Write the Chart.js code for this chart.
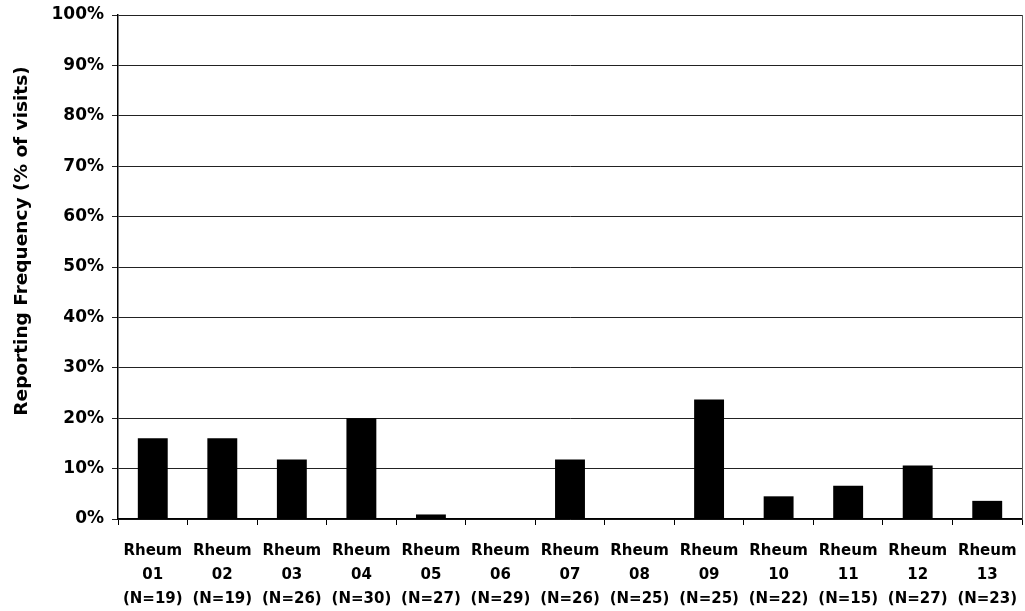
<!DOCTYPE html>
<html>
<head>
<meta charset="utf-8">
<script src="https://cdn.jsdelivr.net/npm/chart.js@4/dist/chart.umd.min.js"></script>
<style>
  html, body { margin: 0; padding: 0; background: #fff; }
  #chart { display: block; }
</style>
</head>
<body>
<canvas id="chart" width="1025" height="611"></canvas>
<script>
const sites = ['01', '02', '03', '04', '05', '06', '07', '08', '09', '10', '11', '12', '13'];
const visitCounts = [19, 19, 26, 30, 27, 29, 26, 25, 25, 22, 15, 27, 23];
const frequency = [16, 16, 11.8, 20, 0.9, 0, 11.8, 0, 23.7, 4.5, 6.6, 10.6, 3.6];
const yTicks = [0, 10, 20, 30, 40, 50, 60, 70, 80, 90, 100];
const yTitle = 'Reporting Frequency (% of visits)';

const labels = sites.map((s, i) => ['Rheum', s, `(N=${visitCounts[i]})`]);
const FONT = '"DejaVu Sans", Arial, sans-serif';

// frame line on the right + the y title (sits a bit above the plot middle in the original)
const extras = {
    id: 'extras',
    afterDraw(chart) {
        const { ctx, chartArea } = chart;
        ctx.save();
        ctx.strokeStyle = '#555';
        ctx.lineWidth = 1;
        ctx.beginPath();
        ctx.moveTo(chartArea.right + 0.5, chartArea.top);
        ctx.lineTo(chartArea.right + 0.5, chartArea.bottom);
        ctx.stroke();

        ctx.translate(22, 241);
        ctx.rotate(-Math.PI / 2);
        ctx.fillStyle = '#000';
        ctx.font = `bold 18.5px ${FONT}`;
        ctx.textAlign = 'center';
        ctx.textBaseline = 'middle';
        ctx.fillText(yTitle, 0, 0);
        ctx.restore();
    }
};

const ctx = document.getElementById('chart').getContext('2d');
new Chart(ctx, {
    type: 'bar',
    data: {
        labels: labels,
        datasets: [{
            data: frequency,
            backgroundColor: '#000',
            borderWidth: 0,
            barPercentage: 0.43,
            categoryPercentage: 1
        }]
    },
    options: {
        responsive: false,
        animation: false,
        layout: { padding: { top: 15, right: 3, left: 0, bottom: 0 } },
        plugins: {
            legend: { display: false },
            tooltip: { enabled: false }
        },
        scales: {
            x: {
                grid: {
                    offset: true,
                    drawOnChartArea: false,
                    drawTicks: true,
                    tickLength: 6,
                    color: '#000'
                },
                border: { color: '#000', width: 1.5 },
                ticks: {
                    color: '#000',
                    maxRotation: 0,
                    autoSkip: false,
                    padding: 14,
                    font: { family: FONT, size: 15, weight: 'bold', lineHeight: 1.6 }
                },
                afterFit(scale) {
                    scale.height = 92;
                    scale.paddingLeft = 0;
                    scale.paddingRight = 0;
                }
            },
            y: {
                min: 0,
                max: 100,
                afterBuildTicks(scale) { scale.ticks = yTicks.map(v => ({ value: v })); },
                grid: {
                    color: '#222',
                    lineWidth: 1,
                    tickLength: 6
                },
                border: { color: '#000', width: 1.5 },
                ticks: {
                    color: '#000',
                    padding: 8,
                    callback: v => v + '%',
                    font: { family: FONT, size: 17, weight: 'bold' }
                },
                afterFit(scale) {
                    scale.width = 118;
                    scale.paddingTop = 0;
                    scale.paddingBottom = 0;
                }
            }
        }
    },
    plugins: [extras]
});
</script>
</body>
</html>
